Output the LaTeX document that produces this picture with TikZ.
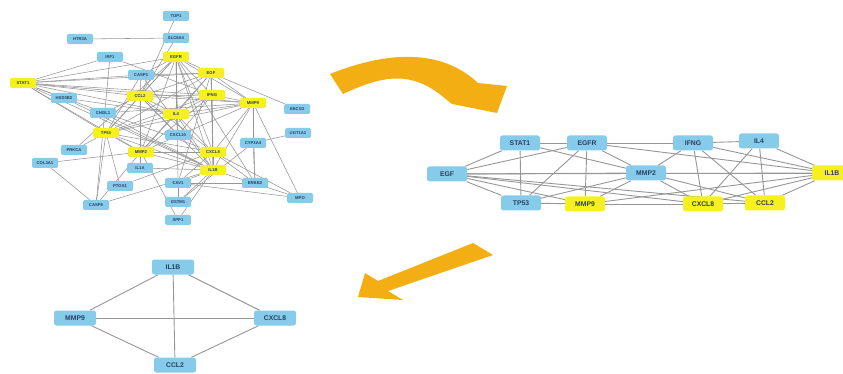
\documentclass[tikz,border=0pt]{standalone}
\usepackage{fontspec}
\setmainfont{Liberation Sans}
\usetikzlibrary{backgrounds}
\definecolor{nblue}{RGB}{135,203,235}
\definecolor{nyel}{RGB}{246,240,30}
\definecolor{ntext}{RGB}{40,62,95}
\definecolor{edgec}{RGB}{150,150,150}
\definecolor{arrc}{RGB}{242,174,18}
\tikzset{
  nb/.style={rectangle, rounded corners=1.5pt, fill=nblue, text=ntext, font=\fontsize{4.2}{4.2}\selectfont\bfseries, minimum width=26pt, minimum height=10pt, inner sep=1pt},
  ny/.style={nb, fill=nyel},
  big/.style={rectangle, rounded corners=2.5pt, fill=nblue, text=ntext, font=\fontsize{6.8}{6.8}\selectfont\bfseries, minimum width=40pt, minimum height=15pt, inner sep=1pt},
  bigy/.style={big, fill=nyel},
  ed/.style={draw=edgec, line width=0.55pt},
  edb/.style={draw=edgec, line width=0.9pt},
  arr/.style={fill=arrc, draw=none}
}
\begin{document}
\begin{tikzpicture}[x=1pt,y=-1pt]
\useasboundingbox (0,0) rectangle (843,374);
% ---------- top-left network ----------
\node[nb] (TOP1) at (176,16) {TOP1};
\node[nb] (HTR3A) at (80,39) {HTR3A};
\node[nb] (SLC6A4) at (176,38) {SLC6A4};
\node[nb] (IRF1) at (110,57) {IRF1};
\node[ny] (EGFR) at (176,57) {EGFR};
\node[ny] (EGF) at (211,73) {EGF};
\node[ny] (STAT1) at (23,83) {STAT1};
\node[nb] (CASP3) at (141,75) {CASP3};
\node[ny] (CCL2) at (140,96) {CCL2};
\node[ny] (IFNG) at (212,95) {IFNG};
\node[nb] (HSD3B2) at (64,98) {HSD3B2};
\node[ny] (MMP9) at (253,103) {MMP9};
\node[nb] (ABCG2) at (297,109) {ABCG2};
\node[ny] (IL4) at (176,114) {IL4};
\node[nb] (CHI3L1) at (103,113) {CHI3L1};
\node[nb] (CXCL10) at (178,135) {CXCL10};
\node[nb] (UGT1A1) at (298,133) {UGT1A1};
\node[ny] (TP53) at (106,133) {TP53};
\node[nb] (CYP3A4) at (253,143) {CYP3A4};
\node[nb] (PRKCA) at (74,150) {PRKCA};
\node[ny] (MMP2) at (141,152) {MMP2};
\node[ny] (CXCL8) at (213,152) {CXCL8};
\node[nb] (COL3A1) at (45,163) {COL3A1};
\node[nb] (IL1A) at (140,168) {IL1A};
\node[ny] (IL1B) at (213,170) {IL1B};
\node[nb] (ERBB2) at (255,183) {ERBB2};
\node[nb] (CAV1) at (178,183) {CAV1};
\node[nb] (PTGS1) at (120,186) {PTGS1};
\node[nb] (CASP8) at (96,205) {CASP8};
\node[nb] (GSTM1) at (178,202) {GSTM1};
\node[nb] (MPO) at (300,198) {MPO};
\node[nb] (SPP1) at (178,220) {SPP1};
% ---------- right network ----------
\node[big] (rSTAT1) at (520,143) {STAT1};
\node[big] (rEGFR) at (587,143) {EGFR};
\node[big] (rEGF) at (447,174) {EGF};
\node[big] (rTP53) at (521,203) {TP53};
\node[bigy] (rMMP9) at (585,204) {MMP9};
\node[big] (rMMP2) at (646,173) {MMP2};
\node[big] (rIFNG) at (693,143) {IFNG};
\node[big] (rIL4) at (759,141) {IL4};
\node[bigy] (rIL1B) at (832,173) {IL1B};
\node[bigy] (rCXCL8) at (703,204) {CXCL8};
\node[bigy] (rCCL2) at (765,203) {CCL2};
% ---------- bottom network ----------
\node[big, minimum width=42pt] (bIL1B) at (173,267) {IL1B};
\node[big, minimum width=42pt] (bMMP9) at (75,318) {MMP9};
\node[big, minimum width=42pt] (bCXCL8) at (275,318) {CXCL8};
\node[big, minimum width=42pt] (bCCL2) at (175,365) {CCL2};
% ---------- edges ----------
\begin{scope}[on background layer]
\foreach \a/\b in {
 STAT1/IRF1,STAT1/CASP3,STAT1/EGFR,STAT1/CCL2,STAT1/IFNG,STAT1/IL4,STAT1/TP53,STAT1/MMP2,STAT1/EGF,STAT1/IL1B,STAT1/HSD3B2,STAT1/CXCL8,STAT1/MMP9,
 EGFR/EGF,EGFR/CCL2,EGFR/IFNG,EGFR/IL4,EGFR/TP53,EGFR/MMP2,EGFR/CXCL8,EGFR/IL1B,EGFR/MMP9,EGFR/CASP3,EGFR/CAV1,EGFR/ERBB2,EGFR/PRKCA,EGFR/CXCL10,
 EGF/CCL2,EGF/IFNG,EGF/IL4,EGF/TP53,EGF/MMP2,EGF/MMP9,EGF/CXCL8,EGF/IL1B,EGF/ABCG2,EGF/CASP3,EGF/CAV1,
 CCL2/IFNG,CCL2/IL4,CCL2/TP53,CCL2/MMP2,CCL2/CXCL8,CCL2/IL1B,CCL2/MMP9,CCL2/CXCL10,CCL2/IL1A,CCL2/CASP3,CCL2/CHI3L1,CCL2/TOP1,
 IFNG/IL4,IFNG/TP53,IFNG/MMP2,IFNG/CXCL8,IFNG/IL1B,IFNG/MMP9,IFNG/CXCL10,IFNG/IRF1,
 MMP9/IL4,MMP9/TP53,MMP9/MMP2,MMP9/CXCL8,MMP9/IL1B,MMP9/CYP3A4,MMP9/ERBB2,MMP9/MPO,MMP9/CHI3L1,
 IL4/TP53,IL4/MMP2,IL4/CXCL8,IL4/IL1B,IL4/CXCL10,IL4/HSD3B2,
 TP53/MMP2,TP53/CXCL8,TP53/IL1B,TP53/CASP8,TP53/CASP3,TP53/PRKCA,TP53/PTGS1,
 MMP2/CXCL8,MMP2/IL1B,MMP2/COL3A1,MMP2/SPP1,MMP2/CASP8,MMP2/IL1A,
 CXCL8/IL1B,CXCL8/ERBB2,CXCL8/MPO,CXCL8/PTGS1,CXCL8/CAV1,
 IL1B/CASP8,IL1B/IL1A,IL1B/GSTM1,IL1B/SPP1,IL1B/CAV1,IL1B/MPO,IL1B/CASP3,IL1B/CHI3L1,IL1B/HSD3B2,
 HTR3A/SLC6A4,SLC6A4/CCL2,IRF1/CASP8,COL3A1/CASP8,UGT1A1/CYP3A4,CYP3A4/GSTM1,CYP3A4/ERBB2,CAV1/MPO,CAV1/GSTM1,ERBB2/CAV1}
  \draw[ed] (\a) -- (\b);
\foreach \a/\b in {
 rEGF/rSTAT1,rEGF/rEGFR,rEGF/rMMP2,rEGF/rTP53,rEGF/rMMP9,rEGF/rCXCL8,rEGF/rIL1B,rEGF/rCCL2,
 rSTAT1/rEGFR,rSTAT1/rTP53,rSTAT1/rMMP2,rSTAT1/rIFNG,
 rEGFR/rTP53,rEGFR/rMMP9,rEGFR/rIFNG,rEGFR/rIL1B,rEGFR/rMMP2,
 rTP53/rMMP9,rTP53/rMMP2,
 rMMP9/rMMP2,rMMP9/rCXCL8,rMMP9/rIL1B,
 rMMP2/rIFNG,rMMP2/rCXCL8,rMMP2/rCCL2,rMMP2/rIL1B,
 rIFNG/rIL4,rIFNG/rCXCL8,rIFNG/rCCL2,rIFNG/rIL1B,
 rIL4/rCXCL8,rIL4/rCCL2,rIL4/rIL1B,
 rCXCL8/rCCL2,rCXCL8/rIL1B,rCCL2/rIL1B}
  \draw[edb] (\a) -- (\b);
\foreach \a/\b in {bIL1B/bMMP9,bIL1B/bCXCL8,bIL1B/bCCL2,bMMP9/bCXCL8,bMMP9/bCCL2,bCXCL8/bCCL2}
  \draw[edb] (\a) -- (\b);
\end{scope}
% ---------- arrows ----------
\fill[arr] (330,74) .. controls (395,48) and (445,52) .. (478,83)
  -- (507,86) -- (497,113) -- (452,104) -- (442,96)
  .. controls (412,72) and (385,74) .. (343,94) -- cycle;
\fill[arr] (473,243) -- (493,255) -- (388,291) -- (403,300) -- (358,297)
  -- (365,273) -- (378,281) -- cycle;
\end{tikzpicture}
\end{document}
